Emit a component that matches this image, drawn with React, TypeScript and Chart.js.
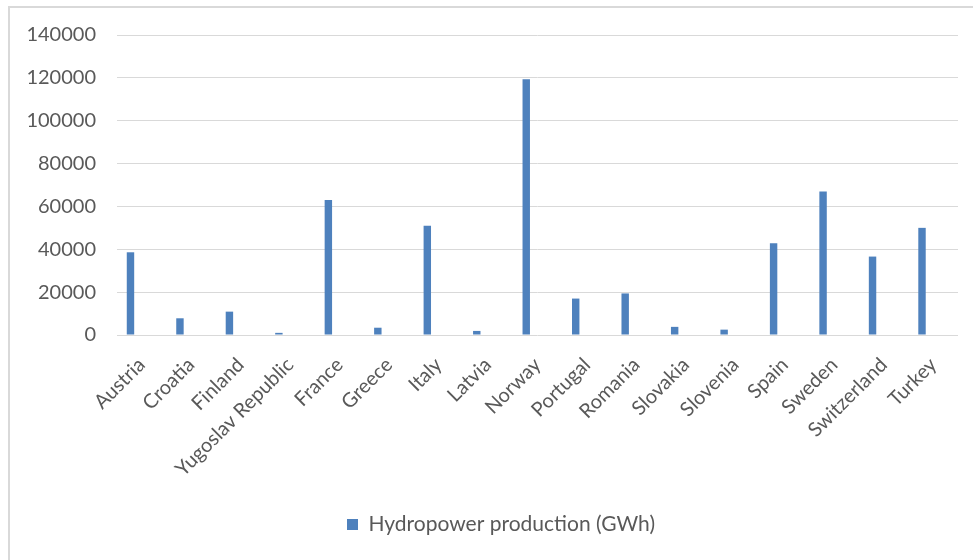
import { useEffect, useRef } from "react";
import { Chart, registerables } from "chart.js";

Chart.register(...registerables);

const categories = [
  "Austria",
  "Croatia",
  "Finland",
  "Yugoslav Republic",
  "France",
  "Greece",
  "Italy",
  "Latvia",
  "Norway",
  "Portugal",
  "Romania",
  "Slovakia",
  "Slovenia",
  "Spain",
  "Sweden",
  "Switzerland",
  "Turkey",
];

const hydropower = [
  38600, 7800, 10900, 1000, 63000, 3400, 51000, 1900, 119300, 17000, 19400,
  3800, 2500, 42800, 67000, 36600, 50000,
];

// Second (empty) series in the original workbook, which shifts the bars left
const emptySeries = [
  null, null, null, null, null, null, null, null, null, null, null, null, null,
  null, null, null, null,
];

const yTicks = [0, 20000, 40000, 60000, 80000, 100000, 120000, 140000];

const FONT = "Lato, 'Open Sans', sans-serif";
const TEXT = "#595959";
const GRID = "#d9d9d9";
const BAR = "#4e81bd";

const legendShift = {
  id: "legendShift",
  afterLayout(chart: any) {
    const l = chart.legend;
    if (l) {
      l.left += 22;
      l.right += 22;
    }
  },
};

export default function App() {
  const ref = useRef<HTMLCanvasElement | null>(null);

  useEffect(() => {
    if (!ref.current) return;
    const chart = new Chart(ref.current, {
      type: "bar",
      data: {
        labels: categories,
        datasets: [
          {
            label: "Hydropower production (GWh)",
            data: hydropower,
            backgroundColor: BAR,
            borderWidth: 0,
            categoryPercentage: 0.91,
            barPercentage: 0.33,
          },
          {
            label: "_empty",
            data: emptySeries as any,
            backgroundColor: "transparent",
            categoryPercentage: 0.91,
            barPercentage: 0.33,
          },
        ],
      },
      options: {
        responsive: false,
        animation: false,
        devicePixelRatio: 1,
        layout: { padding: { left: 0, right: 15, top: 35, bottom: 15 } },
        plugins: {
          tooltip: { enabled: false },
          legend: {
            position: "bottom",
            labels: {
              filter: (item) => item.text !== "_empty",
              boxWidth: 11,
              boxHeight: 11,
              padding: 10,
              color: TEXT,
              font: { family: FONT, size: 21 },
            },
          },
        },
        scales: {
          x: {
            grid: { display: false, drawTicks: false },
            border: { display: false },
            ticks: {
              color: TEXT,
              font: { family: FONT, size: 20 },
              minRotation: 45,
              maxRotation: 45,
              autoSkip: false,
              padding: 18,
            },
            afterFit: (s: any) => {
              s.height = 169;
            },
          },
          y: {
            min: 0,
            max: 140000,
            afterBuildTicks: (s: any) => {
              s.ticks = yTicks.map((v) => ({ value: v }));
            },
            grid: { color: GRID, lineWidth: 1, drawTicks: false },
            border: { display: false },
            ticks: {
              color: TEXT,
              font: { family: FONT, size: 20 },
              padding: 21,
              callback: (v: any) => String(v),
            },
            afterFit: (s: any) => {
              s.width = 117;
            },
          },
        },
      },
      plugins: [legendShift],
    });
    return () => chart.destroy();
  }, []);

  return (
    <div
      style={{
        position: "absolute",
        left: 0,
        top: 0,
        width: 973,
        height: 560,
        overflow: "hidden",
        background: "#fff",
      }}
    >
      <div
        style={{
          position: "absolute",
          left: 8,
          top: 6,
          width: 1000,
          height: 600,
          border: "2px solid #d9d9d9",
        }}
      />
      <canvas
        ref={ref}
        width={973}
        height={560}
        style={{ position: "absolute", left: 0, top: 0, width: 973, height: 560 }}
      />
    </div>
  );
}
